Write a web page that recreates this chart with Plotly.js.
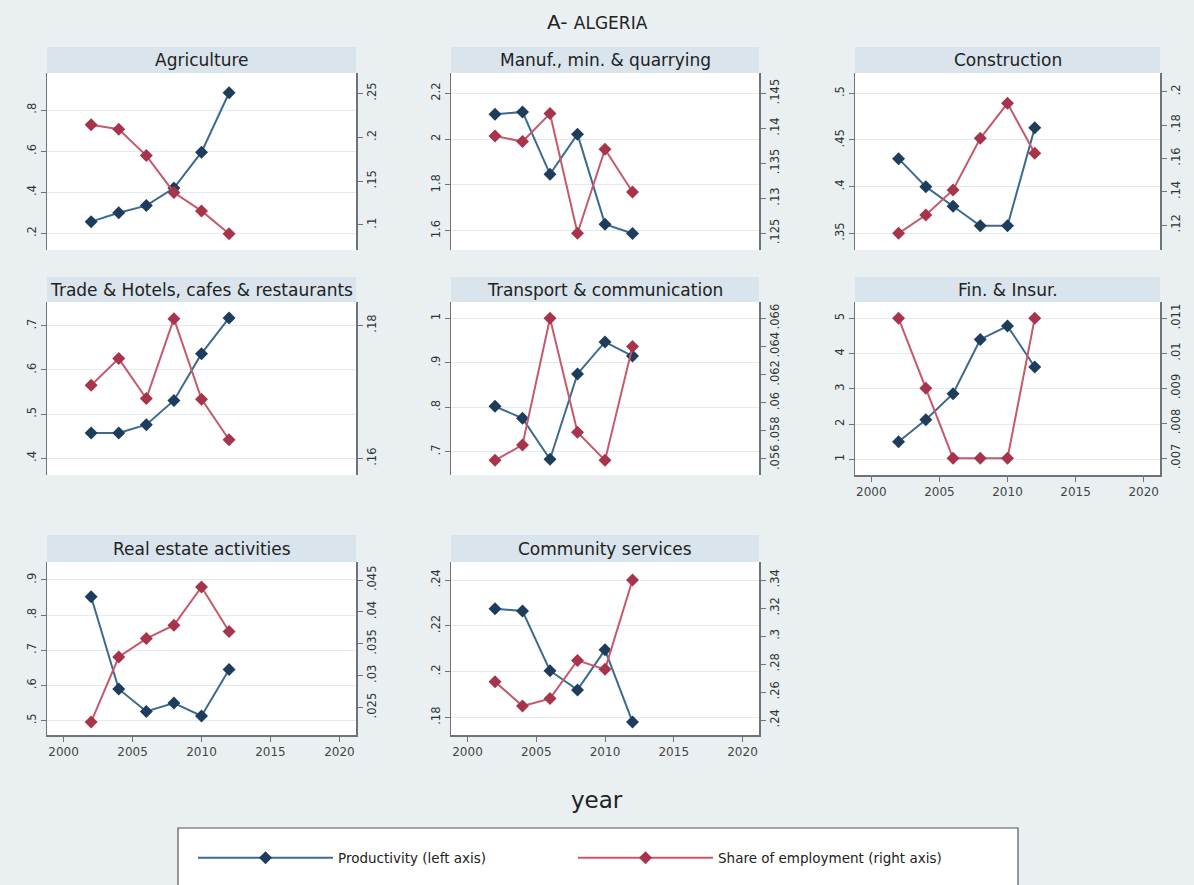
<!DOCTYPE html>
<html>
<head>
<meta charset="utf-8">
<script src="https://cdn.plot.ly/plotly-3.0.1.min.js"></script>
<style>html,body{margin:0;padding:0;background:#eaf0f2;}#chart{width:1194px;height:885px;}</style>
</head>
<body>
<div id="chart"></div>
<script>
// ---------- DATA ----------
const years = [2002, 2004, 2006, 2008, 2010, 2012];
const yearTicks = [2000, 2005, 2010, 2015, 2020];

const panelTitles = ['Agriculture', 'Manuf., min. & quarrying', 'Construction',
  'Trade & Hotels, cafes & restaurants', 'Transport & communication', 'Fin. & Insur.',
  'Real estate activities', 'Community services'];

const agriProd   = [0.257, 0.300, 0.335, 0.420, 0.595, 0.884];
const agriShare  = [0.214, 0.209, 0.179, 0.137, 0.116, 0.090];
const manufProd  = [2.109, 2.119, 1.847, 2.022, 1.629, 1.588];
const manufShare = [0.1389, 0.1381, 0.1421, 0.1250, 0.1370, 0.1309];
const constrProd = [0.430, 0.400, 0.379, 0.358, 0.358, 0.463];
const constrShare= [0.115, 0.126, 0.141, 0.172, 0.193, 0.163];
const tradeProd  = [0.457, 0.457, 0.476, 0.531, 0.637, 0.718];
const tradeShare = [0.1710, 0.1750, 0.1690, 0.1810, 0.1689, 0.1628];
const transProd  = [0.802, 0.775, 0.683, 0.875, 0.947, 0.915];
const transShare = [0.0559, 0.0570, 0.0660, 0.0579, 0.0559, 0.0640];
const finProd    = [1.50, 2.12, 2.86, 4.40, 4.78, 3.62];
const finShare   = [0.011, 0.009, 0.007, 0.007, 0.007, 0.011];
const realProd   = [0.852, 0.590, 0.526, 0.550, 0.513, 0.645];
const realShare  = [0.0227, 0.0329, 0.0358, 0.0379, 0.0439, 0.0369];
const commProd   = [0.2275, 0.2265, 0.2004, 0.1920, 0.2095, 0.1780];
const commShare  = [0.2674, 0.2500, 0.2553, 0.2826, 0.2762, 0.3400];

const agriLeftTicks   = [0.2, 0.4, 0.6, 0.8];
const agriRightTicks  = [0.1, 0.15, 0.2, 0.25];
const manufLeftTicks  = [1.6, 1.8, 2, 2.2];
const manufRightTicks = [0.125, 0.13, 0.135, 0.14, 0.145];
const constrLeftTicks = [0.35, 0.4, 0.45, 0.5];
const constrRightTicks= [0.12, 0.14, 0.16, 0.18, 0.2];
const tradeLeftTicks  = [0.4, 0.5, 0.6, 0.7];
const tradeRightTicks = [0.16, 0.18];
const transLeftTicks  = [0.7, 0.8, 0.9, 1];
const transRightTicks = [0.056, 0.058, 0.06, 0.062, 0.064, 0.066];
const finLeftTicks    = [1, 2, 3, 4, 5];
const finRightTicks   = [0.007, 0.008, 0.009, 0.01, 0.011];
const realLeftTicks   = [0.5, 0.6, 0.7, 0.8, 0.9];
const realRightTicks  = [0.025, 0.03, 0.035, 0.04, 0.045];
const commLeftTicks   = [0.18, 0.2, 0.22, 0.24];
const commRightTicks  = [0.24, 0.26, 0.28, 0.3, 0.32, 0.34];

const seriesNames = ['Productivity (left axis)', 'Share of employment (right axis)'];

// ---------- LAYOUT CONFIG ----------
const W = 1194, H = 885;
const colPx = [[47, 356], [451, 759], [855, 1160]];
const rowPx = [[73, 250], [302, 475], [562, 735]];
const stripTop = [47, 277, 535];
const xRange = [1998.8, 2021.2];

const panels = [
  {prod: agriProd,   share: agriShare,   lt: agriLeftTicks,   rt: agriRightTicks,   r: 0, c: 0, xlab: false, lr: [0.119, 0.98],   rr: [0.0715, 0.273]},
  {prod: manufProd,  share: manufShare,  lt: manufLeftTicks,  rt: manufRightTicks,  r: 0, c: 1, xlab: false, lr: [1.516, 2.289],  rr: [0.1226, 0.1479]},
  {prod: constrProd, share: constrShare, lt: constrLeftTicks, rt: constrRightTicks, r: 0, c: 2, xlab: false, lr: [0.3321, 0.5218],rr: [0.105, 0.2112]},
  {prod: tradeProd,  share: tradeShare,  lt: tradeLeftTicks,  rt: tradeRightTicks,  r: 1, c: 0, xlab: false, lr: [0.362, 0.754],  rr: [0.1575, 0.1835]},
  {prod: transProd,  share: transShare,  lt: transLeftTicks,  rt: transRightTicks,  r: 1, c: 1, xlab: false, lr: [0.6476, 1.0367],rr: [0.05486, 0.06716]},
  {prod: finProd,    share: finShare,    lt: finLeftTicks,    rt: finRightTicks,    r: 1, c: 2, xlab: true,  lr: [0.555, 5.462],  rr: [0.00652, 0.011466]},
  {prod: realProd,   share: realShare,   lt: realLeftTicks,   rt: realRightTicks,   r: 2, c: 0, xlab: true,  lr: [0.459, 0.951],  rr: [0.02065, 0.04783]},
  {prod: commProd,   share: commShare,   lt: commLeftTicks,   rt: commRightTicks,   r: 2, c: 1, xlab: true,  lr: [0.1723, 0.2479], rr: [0.2293, 0.3529]}
];

const fmt = v => String(v).replace(/^0\./, '.');
const FONT = 'DejaVu Sans, Liberation Sans, Arial, sans-serif';
const axisCol = '#6d7378';
const blueLine = '#3d6a8f', blueMark = '#1e3d5c';
const redLine = '#c45a6c', redMark = '#a8344c';

const traces = [];
const layout = {
  width: W, height: H,
  margin: {l: 0, r: 0, t: 0, b: 0},
  paper_bgcolor: '#eaf0f2',
  plot_bgcolor: '#ffffff',
  font: {family: FONT, color: '#333'},
  showlegend: true,
  shapes: [], annotations: []
};

panels.forEach((p, i) => {
  const n = i + 1;
  const xk = n === 1 ? 'x' : 'x' + n;
  const yl = 2 * i + 1, yr = 2 * i + 2;
  const ylk = yl === 1 ? 'y' : 'y' + yl;
  const yrk = 'y' + yr;
  const [x0, x1] = colPx[p.c];
  const [py0, py1] = rowPx[p.r];
  const xd = [x0 / W, x1 / W];
  const yd = [1 - py1 / H, 1 - py0 / H];

  layout['xaxis' + (n === 1 ? '' : n)] = {
    domain: xd, anchor: ylk, range: xRange,
    showgrid: false, zeroline: false,
    showline: p.xlab, linecolor: axisCol, linewidth: 1.5,
    ticks: p.xlab ? 'outside' : '', ticklen: 5, tickcolor: axisCol,
    tickvals: yearTicks, ticktext: yearTicks.map(String),
    showticklabels: p.xlab, tickfont: {size: 12, color: '#444'}
  };
  layout['yaxis' + (yl === 1 ? '' : yl)] = {
    domain: yd, anchor: xk, range: p.lr,
    tickvals: p.lt, ticktext: p.lt.map(fmt), tickangle: -90,
    ticks: 'outside', ticklen: 5, tickcolor: axisCol,
    showline: true, linecolor: axisCol, linewidth: 1.5,
    showgrid: true, gridcolor: '#e4eaee', gridwidth: 1, zeroline: false,
    tickfont: {size: 11.5, color: '#333'}
  };
  layout['yaxis' + yr] = {
    overlaying: ylk, side: 'right', anchor: xk, range: p.rr,
    tickvals: p.rt, ticktext: p.rt.map(fmt), tickangle: -90,
    ticks: 'outside', ticklen: 5, tickcolor: axisCol,
    showline: true, linecolor: axisCol, linewidth: 1.5,
    showgrid: false, zeroline: false,
    tickfont: {size: 11.5, color: '#333'}
  };

  traces.push({
    x: years, y: p.prod, xaxis: xk, yaxis: ylk, type: 'scatter', mode: 'lines+markers',
    name: seriesNames[0], showlegend: i === 0, legendgroup: 'prod',
    line: {color: blueLine, width: 2},
    marker: {symbol: 'diamond', size: 10, color: blueMark}
  });
  traces.push({
    x: years, y: p.share, xaxis: xk, yaxis: yrk, type: 'scatter', mode: 'lines+markers',
    name: seriesNames[1], showlegend: i === 0, legendgroup: 'share',
    line: {color: redLine, width: 2},
    marker: {symbol: 'diamond', size: 10, color: redMark}
  });

  // strip header
  layout.shapes.push({
    type: 'rect', xref: 'paper', yref: 'paper', layer: 'below',
    x0: xd[0], x1: xd[1], y0: 1 - py0 / H, y1: 1 - stripTop[p.r] / H,
    fillcolor: '#d9e4ec', line: {width: 0}
  });
  layout.annotations.push({
    xref: 'paper', yref: 'paper', x: (xd[0] + xd[1]) / 2, y: 1 - (stripTop[p.r] + py0) / 2 / H,
    xanchor: 'center', yanchor: 'middle', showarrow: false,
    text: panelTitles[i], font: {family: FONT, size: 17, color: '#222'}
  });
});

// overall title and x title
layout.annotations.push({
  xref: 'paper', yref: 'paper', x: 0.5, y: 1 - 22 / H, xanchor: 'center', yanchor: 'middle',
  showarrow: false, text: 'A- <span style="font-size:17px">ALGERIA</span>',
  font: {family: FONT, size: 20, color: '#222'}
});
layout.annotations.push({
  xref: 'paper', yref: 'paper', x: 0.5, y: 1 - 800 / H, xanchor: 'center', yanchor: 'middle',
  showarrow: false, text: 'year', font: {family: FONT, size: 23, color: '#222'}
});

// legend box
layout.shapes.push({
  type: 'rect', xref: 'paper', yref: 'paper', layer: 'below',
  x0: 178 / W, x1: 1018 / W, y0: -0.02, y1: 1 - 828 / H,
  fillcolor: '#ffffff', line: {color: '#555', width: 1.2}
});
layout.legend = {
  orientation: 'h', x: 193 / W, y: 1 - 858 / H, xanchor: 'left', yanchor: 'middle',
  bgcolor: 'rgba(0,0,0,0)', borderwidth: 0, itemwidth: 135,
  entrywidth: 230, entrywidthmode: 'pixels',
  font: {family: FONT, size: 13.5, color: '#222'}, itemclick: false, itemdoubleclick: false
};

Plotly.newPlot('chart', traces, layout, {displayModeBar: false, staticPlot: true});
</script>
</body>
</html>
